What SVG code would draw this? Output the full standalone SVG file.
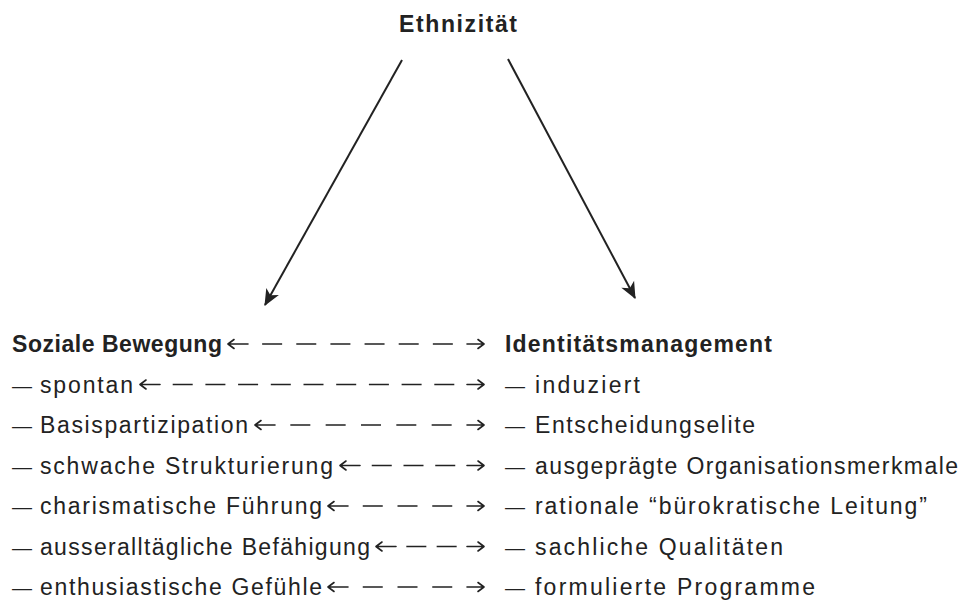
<svg xmlns="http://www.w3.org/2000/svg" width="961" height="605" viewBox="0 0 961 605">
<defs>
<marker id="ah" markerUnits="userSpaceOnUse" markerWidth="20" markerHeight="20" viewBox="-16 -8 18 16" refX="0" refY="0" orient="auto">
<path d="M1,0 L-14,-6.5 L-10,0 L-14,6.5 Z" fill="#222"/>
</marker>
<style>
text{font-family:"Liberation Sans",Arial,sans-serif;font-size:23px;fill:#222}
.b{font-weight:bold}
.d{font-size:20px}
.main{stroke:#222;stroke-width:2;fill:none}
.head{stroke:#222;stroke-width:1.6;fill:none;stroke-linecap:round;stroke-linejoin:round}
.dash{stroke:#222;stroke-width:1.7;fill:none}
</style>
</defs>
<rect width="961" height="605" fill="#fff"/>

<g id="n-ethnizitaet"><text class="b" x="399" y="32" textLength="118" lengthAdjust="spacing">Ethnizität</text></g>

<g id="left">
<g id="l1"><text class="b" x="12" y="352" textLength="210" lengthAdjust="spacing">Soziale Bewegung</text></g>
<g id="l2"><text class="d" x="12" y="392.5">—</text><text x="40" y="392.5" textLength="93" lengthAdjust="spacing">spontan</text></g>
<g id="l3"><text class="d" x="12" y="433">—</text><text x="40" y="433" textLength="208" lengthAdjust="spacing">Basispartizipation</text></g>
<g id="l4"><text class="d" x="12" y="473.5">—</text><text x="40" y="473.5" textLength="293" lengthAdjust="spacing">schwache Strukturierung</text></g>
<g id="l5"><text class="d" x="12" y="514">—</text><text x="40" y="514" textLength="282" lengthAdjust="spacing">charismatische Führung</text></g>
<g id="l6"><text class="d" x="12" y="554.5">—</text><text x="40" y="554.5" textLength="330" lengthAdjust="spacing">ausseralltägliche Befähigung</text></g>
<g id="l7"><text class="d" x="12" y="595">—</text><text x="40" y="595" textLength="282" lengthAdjust="spacing">enthusiastische Gefühle</text></g>
</g>

<g id="right">
<g id="r1"><text class="b" x="505" y="352" textLength="267" lengthAdjust="spacing">Identitätsmanagement</text></g>
<g id="r2"><text class="d" x="505" y="392.5">—</text><text x="535" y="392.5" textLength="105" lengthAdjust="spacing">induziert</text></g>
<g id="r3"><text class="d" x="505" y="433">—</text><text x="535" y="433" textLength="220" lengthAdjust="spacing">Entscheidungselite</text></g>
<g id="r4"><text class="d" x="505" y="473.5">—</text><text x="535" y="473.5" textLength="423" lengthAdjust="spacing">ausgeprägte Organisationsmerkmale</text></g>
<g id="r5"><text class="d" x="505" y="514">—</text><text x="535" y="514" textLength="392" lengthAdjust="spacing">rationale “bürokratische Leitung”</text></g>
<g id="r6"><text class="d" x="505" y="554.5">—</text><text x="535" y="554.5" textLength="248" lengthAdjust="spacing">sachliche Qualitäten</text></g>
<g id="r7"><text class="d" x="505" y="595">—</text><text x="535" y="595" textLength="280" lengthAdjust="spacing">formulierte Programme</text></g>
</g>

<g id="connectors">
<line class="main" x1="402" y1="60" x2="265" y2="305" marker-end="url(#ah)"/>
<line class="main" x1="508" y1="59" x2="635" y2="298" marker-end="url(#ah)"/>

<g id="c1">
<path class="head" d="M248,344 H228 M234,339.5 L228,344 L234,348.5 M467,344 H484 M478,339.5 L484,344 L478,348.5"/>
<line class="dash" x1="262.14" y1="344" x2="452.86" y2="344" stroke-dasharray="20 14.14"/>
</g>
<g id="c2">
<path class="head" d="M160,384.5 H140 M146,380 L140,384.5 L146,389 M467,384.5 H484 M478,380 L484,384.5 L478,389"/>
<line class="dash" x1="172.7" y1="384.5" x2="454.3" y2="384.5" stroke-dasharray="20 12.7"/>
</g>
<g id="c3">
<path class="head" d="M275,425 H255 M261,420.5 L255,425 L261,429.5 M467,425 H484 M478,420.5 L484,425 L478,429.5"/>
<line class="dash" x1="290.33" y1="425" x2="451.67" y2="425" stroke-dasharray="20 15.33"/>
</g>
<g id="c4">
<path class="head" d="M360,465.5 H340 M346,461 L340,465.5 L346,470 M467,465.5 H484 M478,461 L484,465.5 L478,470"/>
<line class="dash" x1="371.75" y1="465.5" x2="455.25" y2="465.5" stroke-dasharray="20 11.75"/>
</g>
<g id="c5">
<path class="head" d="M348,506 H328 M334,501.5 L328,506 L334,510.5 M467,506 H484 M478,501.5 L484,506 L478,510.5"/>
<line class="dash" x1="362.75" y1="506" x2="452.25" y2="506" stroke-dasharray="20 14.75"/>
</g>
<g id="c6">
<path class="head" d="M396,546.5 H376 M382,542 L376,546.5 L382,551 M467,546.5 H484 M478,542 L484,546.5 L478,551"/>
<line class="dash" x1="406.33" y1="546.5" x2="456.67" y2="546.5" stroke-dasharray="20 10.33"/>
</g>
<g id="c7">
<path class="head" d="M348,587 H328 M334,582.5 L328,587 L334,591.5 M467,587 H484 M478,582.5 L484,587 L478,591.5"/>
<line class="dash" x1="362.75" y1="587" x2="452.25" y2="587" stroke-dasharray="20 14.75"/>
</g>
</g>
</svg>
